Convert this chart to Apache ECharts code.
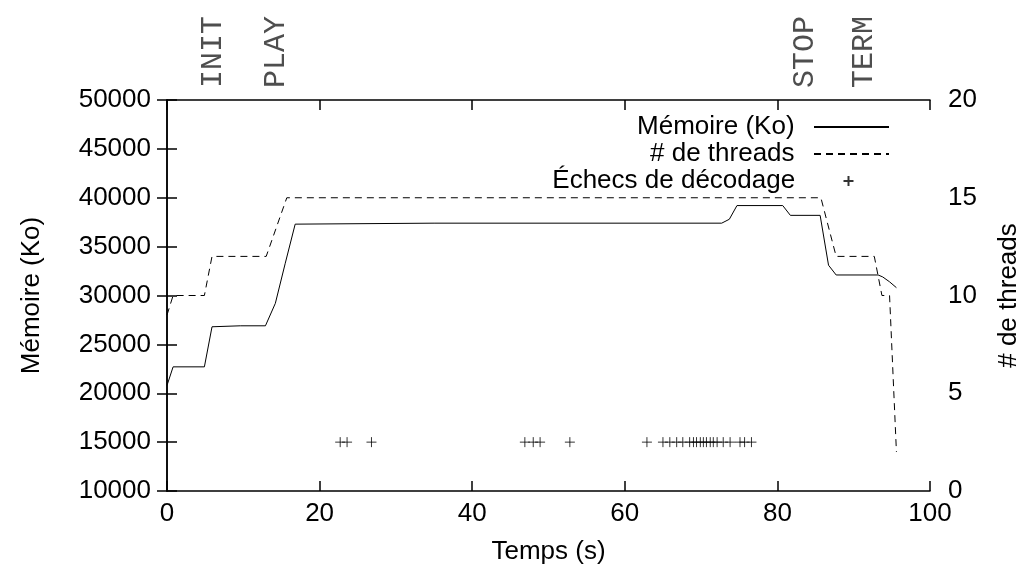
<!DOCTYPE html>
<html>
<head>
<meta charset="utf-8">
<script src="https://cdn.jsdelivr.net/npm/echarts@6/dist/echarts.min.js"></script>
<style>
  html, body { margin: 0; padding: 0; background: #fff; }
  #Chart { width: 1025px; height: 572px; }
</style>
</head>
<body>
<div id="Chart"></div>
<script>
var Chart = echarts.init(document.getElementById('Chart'));

// memoire (Ko) vs temps (s)
var memTime = [0, 0.8, 4.9, 5.9, 9.6, 12.9, 14.2, 15.5, 16.8, 35, 72.7, 73.7, 74.7, 80.7, 81.7, 85.6, 86.7, 87.7, 93.2, 93.8, 94.7, 95.6];
var memKo = [20800, 22700, 22700, 26800, 26900, 26900, 29200, 33300, 37300, 37400, 37400, 37800, 39200, 39200, 38200, 38200, 33100, 32100, 32100, 31900, 31400, 30800];

// nombre de threads
var thrTime = [0, 0.8, 4.9, 5.9, 13.0, 15.7, 85.7, 87.7, 92.7, 93.7, 94.7, 95.6];
var thrCount = [9, 10, 10, 12, 12, 15, 15, 12, 12, 10, 10, 2];

// echecs de decodage (toujours traces a 15000)
var failTimes = [22.7, 23.6, 26.8, 46.9, 48.0, 48.9, 52.8, 62.9, 65.0, 65.9, 66.8, 67.6, 68.5, 69.0, 69.4, 69.9, 70.3, 70.7, 71.2, 71.6, 72.1, 72.9, 73.8, 75.1, 75.7, 76.6];
var failLevel = 15000;

// evenements
var eventNames = ['INIT', 'PLAY', 'STOP', 'TERM'];
var eventTimes = [6.0, 14.3, 83.6, 91.4];

function zip(a, b) {
    var out = [];
    for (var i = 0; i < a.length; i++) out.push([a[i], b[i]]);
    return out;
}

var failData = failTimes.map(function (t) { return [t, failLevel]; });
var eventData = eventTimes.map(function (t, i) { return { name: eventNames[i], value: [t, 50000] }; });

var font = 'Liberation Sans';
var fs = 26;
var txt = { color: '#000', fontFamily: font, fontSize: fs };
var axisLine = { show: true, lineStyle: { color: '#000', width: 1.5 } };
var tick = { show: true, inside: true, length: 10, lineStyle: { color: '#000', width: 1.5 } };
var plus = 'path://M0,5H10M5,0V10';
var noDot = { color: 'transparent', borderWidth: 0 };

var option = {
    animation: false,
    grid: { left: 167, right: 95, top: 100, bottom: 81, outerBoundsMode: 'none', containLabel: false },
    legend: [
        {
            data: ['Mémoire (Ko)'], right: 135, top: 114, align: 'right',
            itemWidth: 75, itemHeight: 10, padding: 0, itemStyle: noDot,
            formatter: '{name}  ', textStyle: txt
        },
        {
            data: ['# de threads'], right: 135, top: 141, align: 'right',
            itemWidth: 75, itemHeight: 10, padding: 0, itemStyle: noDot,
            formatter: '{name}  ', textStyle: txt
        },
        {
            data: ['Échecs de décodage'], right: 169, top: 168, align: 'right',
            itemWidth: 10, itemHeight: 10, padding: 0,
            formatter: '{name}      ', textStyle: txt
        }
    ],
    xAxis: [
        {
            type: 'value', min: 0, max: 100, interval: 20,
            name: 'Temps (s)', nameLocation: 'middle', nameGap: 48,
            nameTextStyle: txt,
            axisLine: axisLine, axisTick: tick,
            axisLabel: { color: '#000', fontFamily: font, fontSize: fs, margin: 10 },
            splitLine: { show: false }
        },
        {
            type: 'value', min: 0, max: 100, interval: 20, position: 'top',
            axisLine: axisLine, axisTick: tick,
            axisLabel: { show: false }, splitLine: { show: false }
        }
    ],
    yAxis: [
        {
            type: 'value', min: 10000, max: 50000, interval: 5000,
            name: 'Mémoire (Ko)', nameLocation: 'middle', nameRotate: 90, nameGap: 122,
            nameTextStyle: txt,
            axisLine: axisLine, axisTick: tick,
            axisLabel: {
                color: '#000', fontFamily: font, fontSize: fs, margin: 16,
                formatter: function (v) { return String(v); }
            },
            splitLine: { show: false }
        },
        {
            type: 'value', min: 0, max: 20, interval: 2.5, position: 'right',
            name: '# de threads', nameLocation: 'middle', nameRotate: 90, nameGap: 66,
            nameTextStyle: txt,
            axisLine: axisLine, axisTick: tick,
            axisLabel: {
                color: '#000', fontFamily: font, fontSize: fs, margin: 18,
                formatter: function (v) { return v % 5 === 0 ? String(v) : ''; }
            },
            splitLine: { show: false }
        }
    ],
    series: [
        {
            name: 'Mémoire (Ko)', type: 'line', data: zip(memTime, memKo),
            showSymbol: false, symbol: 'none',
            lineStyle: { color: '#000', width: 1 },
            itemStyle: { color: '#000' }
        },
        {
            name: '# de threads', type: 'line', yAxisIndex: 1, data: zip(thrTime, thrCount),
            showSymbol: false, symbol: 'none',
            lineStyle: { color: '#000', width: 1, type: [7, 5] },
            itemStyle: { color: '#000' }
        },
        {
            name: 'Échecs de décodage', type: 'scatter', data: failData,
            symbol: plus, symbolSize: 10,
            itemStyle: { color: 'none', borderColor: '#000', borderWidth: 1 }
        },
        {
            name: 'events', type: 'scatter', data: eventData,
            symbolSize: 0, silent: true,
            label: {
                show: true, position: 'top', distance: 12, rotate: 90,
                align: 'left', verticalAlign: 'middle',
                formatter: '{b}', color: '#222',
                fontFamily: 'Liberation Mono', fontSize: 30
            }
        }
    ]
};

Chart.setOption(option);
</script>
</body>
</html>
